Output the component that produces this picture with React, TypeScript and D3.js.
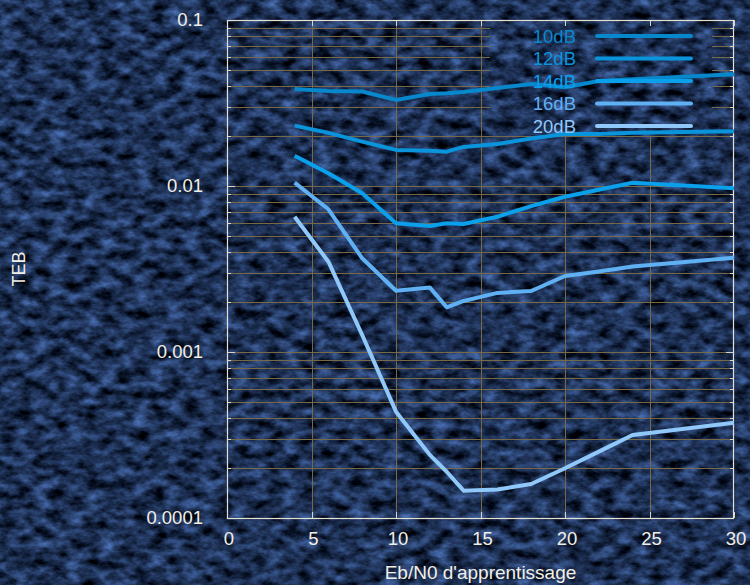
import React from "react";
import * as d3 from "d3";

const xValues = [4, 6, 8, 10, 12, 13, 14, 16, 18, 20, 22, 24, 30];
const teb10dB = [0.0384, 0.0373, 0.0371, 0.033, 0.0358, 0.0362, 0.0368, 0.0389, 0.0411, 0.0393, 0.0429, 0.0439, 0.0471];
const teb12dB = [0.0231, 0.0209, 0.0185, 0.0165, 0.0163, 0.0161, 0.0172, 0.0179, 0.0193, 0.0206, 0.0206, 0.0209, 0.0214];
const teb14dB = [0.01522, 0.01193, 0.00904, 0.00596, 0.00574, 0.00596, 0.0059, 0.00653, 0.00757, 0.00862, 0.0095, 0.01047, 0.00969];
const teb16dB = [0.01047, 0.00724, 0.00367, 0.00234, 0.00245, 0.00186, 0.00203, 0.00227, 0.00233, 0.00287, 0.00305, 0.00327, 0.0037];
const teb20dB = [0.00653, 0.0035, 0.001266, 0.000437, 0.00024, 0.00019, 0.0001461, 0.0001485, 0.0001602, 0.0001993, 0.000251, 0.000316, 0.000375];

const seriesNames = ["10dB", "12dB", "14dB", "16dB", "20dB"];
const seriesValues = [teb10dB, teb12dB, teb14dB, teb16dB, teb20dB];
const seriesColors = ["#0888cc", "#0a94dc", "#0aa0ec", "#60b0f4", "#90c8fa"];

const xTicks = [0, 5, 10, 15, 20, 25, 30];
const yLabelValues = [0.1, 0.01, 0.001, 0.0001];
const yLabelTexts = ["0.1", "0.01", "0.001", "0.0001"];

const W = 750;
const H = 585;
const left = 227;
const right = 734;
const top = 20;
const bottom = 518;

export default function App() {
  const x = d3.scaleLinear().domain([0, 30]).range([left, right]);
  const y = d3.scaleLog().domain([0.0001, 0.1]).range([bottom, top]);
  const line = d3
    .line<[number, number]>()
    .x((d) => x(d[0]))
    .y((d) => y(d[1]));
  const yGrid = y.ticks();
  const font = "'Liberation Sans', Arial, Helvetica, sans-serif";
  const legX = 576;
  const legLineX1 = 597;
  const legLineX2 = 691;
  const legY0 = 36;
  const legDy = 22.5;

  return (
    <svg
      width={W}
      height={H}
      style={{ position: "absolute", left: 0, top: 0, display: "block" }}
      fontFamily={font}
    >
      <defs>
        <filter
          id="tex"
          x="0"
          y="0"
          width={W}
          height={H}
          filterUnits="userSpaceOnUse"
          colorInterpolationFilters="sRGB"
        >
          <feTurbulence type="fractalNoise" baseFrequency="0.06 0.1" numOctaves={4} seed={7} result="n" />
          <feColorMatrix
            in="n"
            type="matrix"
            values="0.45 0 0 0 -0.11  0.64 0 0 0 -0.13  0.98 0 0 0 -0.16  0 0 0 0 1"
          />
        </filter>
        <mask id="gridMask">
          <rect x={0} y={0} width={W} height={H} fill="white" />
          <rect x={490} y={top} width={222} height={116} fill="black" />
        </mask>
      </defs>
      <rect x={0} y={0} width={W} height={H} fill="#1f3563" />
      <rect x={0} y={0} width={W} height={H} filter="url(#tex)" />

      <g mask="url(#gridMask)" stroke="#776848" strokeWidth={1}>
        {yGrid.map((v, i) => (
          <line key={"h" + i} x1={left} x2={right} y1={Math.round(y(v)) + 0.5} y2={Math.round(y(v)) + 0.5} />
        ))}
        {xTicks.slice(1, -1).map((v, i) => (
          <line key={"v" + i} x1={Math.round(x(v)) + 0.5} x2={Math.round(x(v)) + 0.5} y1={top} y2={bottom} />
        ))}
      </g>

      <g stroke="#d8d4c8" strokeWidth={1}>
        {yGrid.map((v, i) => {
          const yy = Math.round(y(v)) + 0.5;
          const len = yLabelValues.includes(v) ? 8 : 4;
          return (
            <g key={"t" + i}>
              <line x1={left} x2={left + len} y1={yy} y2={yy} />
              <line x1={right - len} x2={right} y1={yy} y2={yy} />
            </g>
          );
        })}
        {xTicks.map((v, i) => {
          const xx = Math.round(x(v)) + 0.5;
          return (
            <g key={"xt" + i}>
              <line x1={xx} x2={xx} y1={bottom} y2={bottom - 6} />
              <line x1={xx} x2={xx} y1={top} y2={top + 6} />
            </g>
          );
        })}
      </g>
      <rect
        x={left + 0.5}
        y={top + 0.5}
        width={right - left - 1}
        height={bottom - top}
        fill="none"
        stroke="#e4e0d4"
        strokeWidth={1.2}
      />

      {seriesValues.map((vals, i) => (
        <path
          key={"s" + i}
          d={line(xValues.map((xv, j) => [xv, vals[j]]) as [number, number][]) || ""}
          fill="none"
          stroke={seriesColors[i]}
          strokeWidth={4}
          strokeLinejoin="round"
          strokeLinecap="butt"
        />
      ))}

      {seriesNames.map((name, i) => {
        const yy = legY0 + i * legDy;
        return (
          <g key={"l" + i}>
            <text x={legX} y={yy} dy="0.36em" textAnchor="end" fontSize={18.5} fill={seriesColors[i]}>
              {name}
            </text>
            <line x1={legLineX1} x2={legLineX2} y1={yy} y2={yy} stroke={seriesColors[i]} strokeWidth={4} strokeLinecap="round" />
          </g>
        );
      })}

      <g fill="#f2efe6" fontSize={18.5}>
        {yLabelValues.map((v, i) => (
          <text key={"yl" + i} x={203} y={y(v)} dy="0.35em" textAnchor="end">
            {yLabelTexts[i]}
          </text>
        ))}
        {xTicks.map((v, i) => (
          <text key={"xl" + i} x={x(v) + 2} y={545} textAnchor="middle">
            {v}
          </text>
        ))}
        <text x={(left + right) / 2} y={579} textAnchor="middle" fontSize={19}>
          Eb/N0 d'apprentissage
        </text>
        <text
          transform={`translate(${25},${(top + bottom) / 2}) rotate(-90)`}
          textAnchor="middle"
          fontSize={18}
        >
          TEB
        </text>
      </g>
    </svg>
  );
}
